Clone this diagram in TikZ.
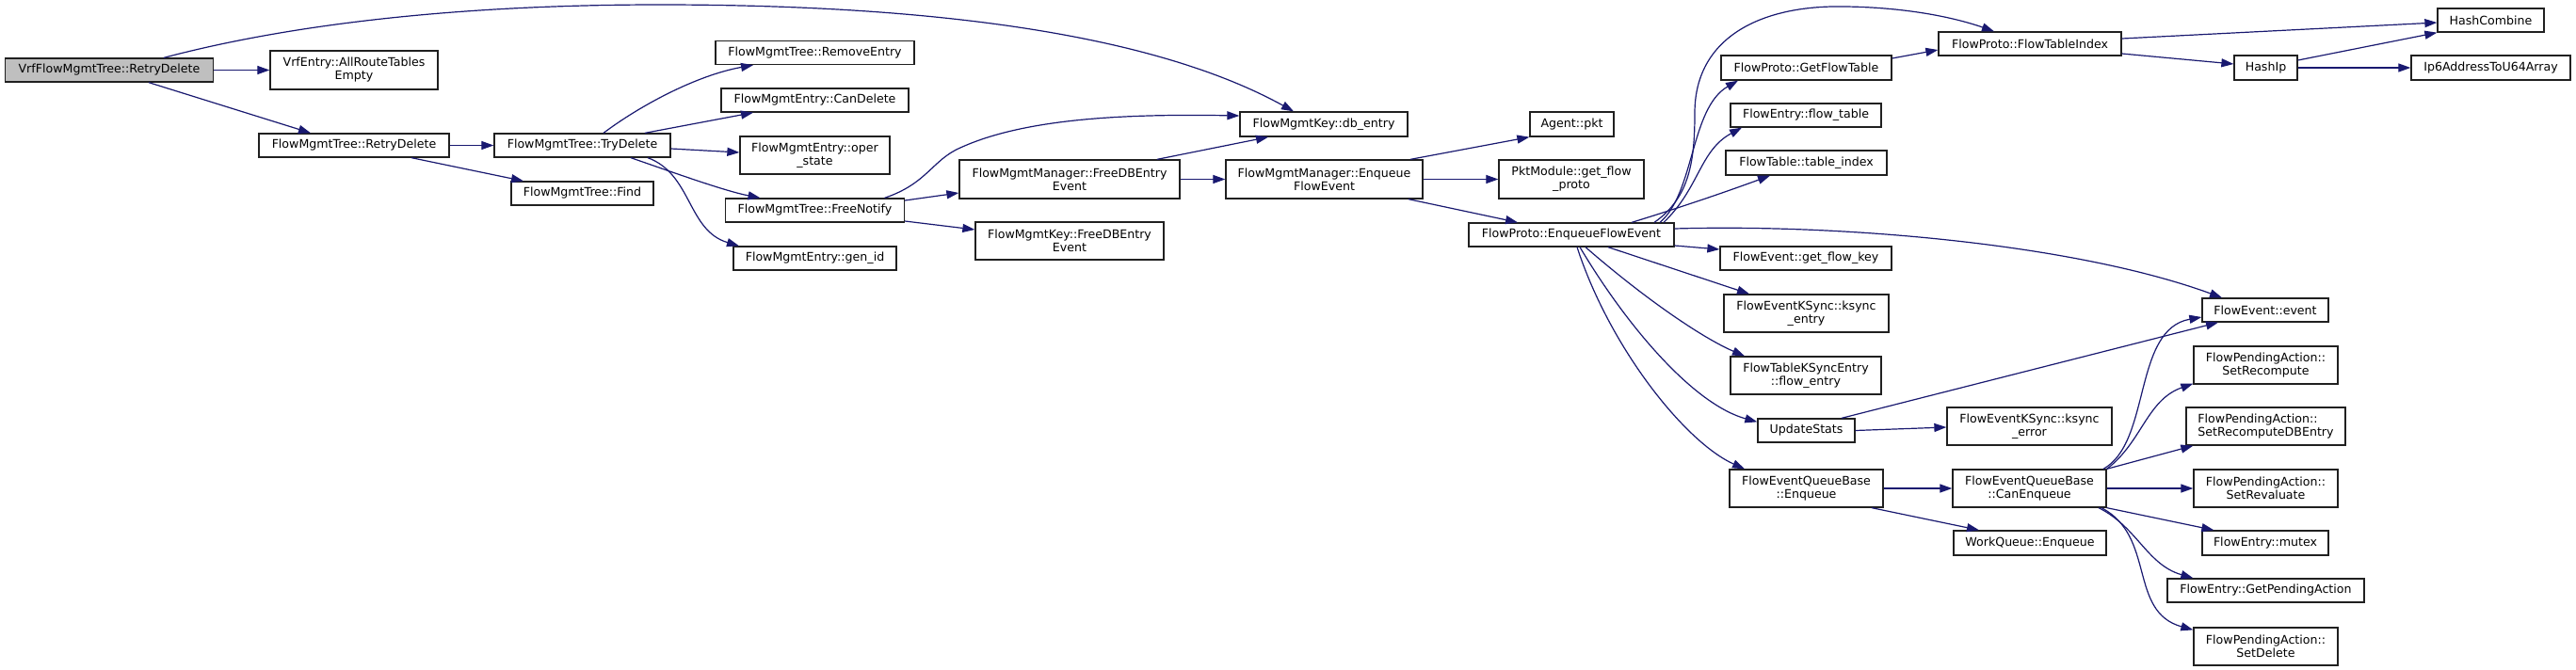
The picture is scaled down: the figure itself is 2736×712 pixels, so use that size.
\documentclass[tikz,border=0pt]{standalone}
\usepackage{fontspec}
\setmainfont{DejaVu Sans}
\usetikzlibrary{arrows.meta}
\definecolor{edgeblue}{HTML}{191970}
\definecolor{rootgray}{HTML}{BFBFBF}
\definecolor{boxline}{HTML}{202020}
\begin{document}
\begin{tikzpicture}[x=1pt,y=-1pt,
  box/.style={draw=boxline, line width=1.3pt, fill=white, inner sep=0pt, align=center,
    font=\fontsize{12.6}{14}\selectfont},
  wh/.style 2 args={minimum width=#1pt, minimum height=#2pt},
  edge/.style={draw=edgeblue, line width=1.2pt, -{Triangle[length=13pt,width=9pt]}}]
\fill[white] (0,0) rectangle (2736,712);
\useasboundingbox (0,0) rectangle (2736,712);
% nodes
\node[box,wh={221}{25},fill=rootgray] (vrf) at (116,74.5) {VrfFlowMgmtTree::RetryDelete};
\node[box,wh={178}{41}] (vrfe) at (376,74.5) {VrfEntry::AllRouteTables\\Empty};
\node[box,wh={202}{25}] (fmtrd) at (376,154.5) {FlowMgmtTree::RetryDelete};
\node[box,wh={187}{25}] (tryd) at (618.5,154.5) {FlowMgmtTree::TryDelete};
\node[box,wh={151}{25}] (find) at (618.5,205.5) {FlowMgmtTree::Find};
\node[box,wh={211}{25}] (rement) at (865.5,56) {FlowMgmtTree::RemoveEntry};
\node[box,wh={199}{25}] (candel) at (865.5,106.5) {FlowMgmtEntry::CanDelete};
\node[box,wh={159}{40}] (oper) at (865.5,165) {FlowMgmtEntry::oper\\\_state};
\node[box,wh={190}{25}] (freen) at (865.5,223.5) {FlowMgmtTree::FreeNotify};
\node[box,wh={173}{25}] (genid) at (865.5,274.5) {FlowMgmtEntry::gen\_id};
\node[box,wh={234}{41}] (mfree) at (1136,190.5) {FlowMgmtManager::FreeDBEntry\\Event};
\node[box,wh={200}{40}] (kfree) at (1136,256) {FlowMgmtKey::FreeDBEntry\\Event};
\node[box,wh={178}{26}] (dbent) at (1406,132) {FlowMgmtKey::db\_entry};
\node[box,wh={209}{41}] (menq) at (1406.5,190.5) {FlowMgmtManager::Enqueue\\FlowEvent};
\node[box,wh={89}{26}] (pkt) at (1669.5,132) {Agent::pkt};
\node[box,wh={154}{41}] (pktm) at (1669,190.5) {PktModule::get\_flow\\\_proto};
\node[box,wh={218}{25}] (fpenq) at (1669,249.5) {FlowProto::EnqueueFlowEvent};
\node[box,wh={181}{26}] (gft) at (1918.5,72) {FlowProto::GetFlowTable};
\node[box,wh={160}{25}] (fentft) at (1918,122.5) {FlowEntry::flow\_table};
\node[box,wh={171}{26}] (ftti) at (1918.5,173) {FlowTable::table\_index};
\node[box,wh={182}{25}] (gfk) at (1918,274.5) {FlowEvent::get\_flow\_key};
\node[box,wh={194}{25}] (ftidx) at (2156,46.5) {FlowProto::FlowTableIndex};
\node[box,wh={113}{25}] (hcomb) at (2645.5,21.5) {HashCombine};
\node[box,wh={67}{26}] (haship) at (2406.5,72) {HashIp};
\node[box,wh={169}{26}] (ip6) at (2645.5,72) {Ip6AddressToU64Array};
\node[box,wh={175}{40}] (kse) at (1918.5,333) {FlowEventKSync::ksync\\\_entry};
\node[box,wh={160}{40}] (fke) at (1918,399) {FlowTableKSyncEntry\\::flow\_entry};
\node[box,wh={103}{25}] (upd) at (1918.5,457.5) {UpdateStats};
\node[box,wh={163}{40}] (feqbe) at (1918.5,519) {FlowEventQueueBase\\::Enqueue};
\node[box,wh={134}{25}] (fev) at (2406,329.5) {FlowEvent::event};
\node[box,wh={153}{40}] (spr) at (2406.5,388) {FlowPendingAction::\\SetRecompute};
\node[box,wh={169}{40},align=left] (sprdb) at (2406.5,453) {FlowPendingAction::\\SetRecomputeDBEntry};
\node[box,wh={153}{40}] (sprev) at (2406.5,519) {FlowPendingAction::\\SetRevaluate};
\node[box,wh={134}{26}] (mutex) at (2406,577) {FlowEntry::mutex};
\node[box,wh={209}{25}] (gpa) at (2406.5,627.5) {FlowEntry::GetPendingAction};
\node[box,wh={153}{40}] (sdel) at (2406.5,687) {FlowPendingAction::\\SetDelete};
\node[box,wh={175}{40}] (kserr) at (2155.5,453) {FlowEventKSync::ksync\\\_error};
\node[box,wh={163}{40}] (caneq) at (2155.5,519) {FlowEventQueueBase\\::CanEnqueue};
\node[box,wh={162}{26}] (wqe) at (2156,577) {WorkQueue::Enqueue};
% edges
\draw[edge] ([xshift=58pt]vrf.north) .. controls (330,20) and (520,5) .. (700,5) .. controls (1050,5) and (1250,50) .. ([xshift=-32pt]dbent.north);
\draw[edge] (vrf.east) -- (vrfe.west);
\draw[edge] ([xshift=42pt]vrf.south) -- ([xshift=-46pt]fmtrd.north);
\draw[edge] (fmtrd.east) -- (tryd.west);
\draw[edge] ([xshift=61pt]fmtrd.south) -- ([xshift=-62.5pt]find.north);
\draw[edge] ([xshift=22.5pt]tryd.north) .. controls (680,112) and (740,80) .. ([xshift=-65.5pt]rement.south);
\draw[edge] ([xshift=66.5pt]tryd.north) -- ([xshift=-65.5pt]candel.south);
\draw[edge] ([yshift=-3.5pt]tryd.east) -- ([yshift=3pt]oper.west);
\draw[edge] ([xshift=51.5pt]tryd.south) .. controls (720,185) and (770,203) .. ([xshift=-58pt]freen.north);
\draw[edge] ([xshift=69.5pt]tryd.south) .. controls (735,185) and (730,245) .. ([xshift=-80.5pt]genid.north);
\draw[edge] ([xshift=74pt]freen.north) .. controls (985,195) and (990,170) .. (1020,157) .. controls (1090,125) and (1200,121) .. ([yshift=9pt]dbent.west);
\draw[edge] ([yshift=10.5pt]freen.east) -- ([yshift=-14.5pt]mfree.west);
\draw[edge] ([yshift=-11.5pt]freen.east) -- ([yshift=12pt]kfree.west);
\draw[edge] ([xshift=93pt]mfree.north) -- ([xshift=-59pt]dbent.south);
\draw[edge] (mfree.east) -- (menq.west);
\draw[edge] ([xshift=91.5pt]menq.north) -- (pkt.south west);
\draw[edge] (menq.east) -- (pktm.west);
\draw[edge] ([xshift=89.5pt]menq.south) -- ([xshift=-57pt]fpenq.north);
\draw[edge] ([xshift=88pt]fpenq.north) .. controls (1795,210) and (1800,170) .. (1800,120) .. controls (1800,40) and (1870,5) .. (1960,7) .. controls (2030,8) and (2080,20) .. ([xshift=-38pt]ftidx.north);
\draw[edge] ([xshift=94pt]fpenq.north) .. controls (1800,205) and (1795,115) .. ([xshift=-72.5pt]gft.south);
\draw[edge] ([xshift=98pt]fpenq.north) .. controls (1805,200) and (1805,160) .. ([xshift=-68pt]fentft.south);
\draw[edge] ([xshift=64pt]fpenq.north) .. controls (1780,222) and (1830,205) .. ([xshift=-38.5pt]ftti.south);
\draw[edge] ([yshift=6.5pt]fpenq.east) .. controls (1950,238) and (2200,258) .. ([xshift=-46pt]fev.north);
\draw[edge] ([yshift=-11.5pt]fpenq.east) -- ([yshift=9.5pt]gfk.west);
\draw[edge] ([xshift=39pt]fpenq.south) -- ([xshift=-60.5pt]kse.north);
\draw[edge] ([xshift=15pt]fpenq.south) .. controls (1750,320) and (1810,360) .. ([xshift=-65pt]fke.north);
\draw[edge] ([xshift=9pt]fpenq.south) .. controls (1730,350) and (1800,430) .. ([yshift=-4pt]upd.north west);
\draw[edge] ([xshift=6pt]fpenq.south) .. controls (1710,370) and (1790,470) .. ([xshift=-65.5pt]feqbe.north);
\draw[edge] ([yshift=10pt]gft.east) -- ([yshift=-6.5pt]ftidx.west);
\draw[edge] ([yshift=5.5pt]ftidx.east) -- ([yshift=-2.5pt]hcomb.west);
\draw[edge] ([yshift=-10.5pt]ftidx.east) -- ([yshift=4pt]haship.west);
\draw[edge] ([yshift=8pt]haship.east) -- (hcomb.south west);
\draw[edge] (haship.east) -- (ip6.west);
\draw[edge] ([xshift=37.5pt]upd.north) -- ([xshift=-50pt]fev.south);
\draw[edge] (upd.east) -- ([yshift=-1pt]kserr.west);
\draw[edge] (feqbe.east) -- (caneq.west);
\draw[edge] ([xshift=69.5pt]feqbe.south) -- ([xshift=-54pt]wqe.north);
\draw[edge] ([xshift=78.5pt]caneq.north) .. controls (2285,470) and (2265,350) .. ([yshift=-7.5pt]fev.west);
\draw[edge] (caneq.north east) .. controls (2275,470) and (2280,425) .. ([yshift=1pt]spr.south west);
\draw[edge] (caneq.north east) -- ([xshift=8pt]sprdb.south west);
\draw[edge] (caneq.east) -- (sprev.west);
\draw[edge] (caneq.south east) -- ([xshift=13pt]mutex.north west);
\draw[edge] ([xshift=73.5pt]caneq.south) .. controls (2270,560) and (2280,600) .. ([xshift=28pt]gpa.north west);
\draw[edge] ([xshift=76.5pt]caneq.south) .. controls (2290,570) and (2260,650) .. ([yshift=-3pt]sdel.north west);
\end{tikzpicture}
\end{document}
